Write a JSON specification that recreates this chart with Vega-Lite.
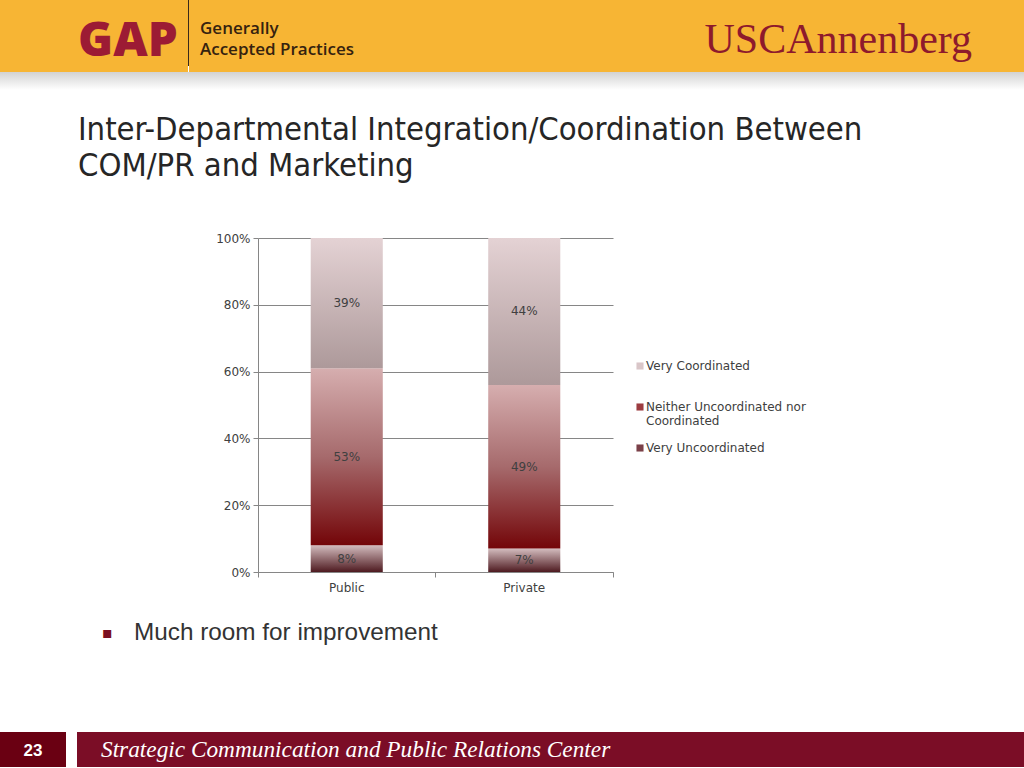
{
  "$schema": "https://vega.github.io/schema/vega-lite/v6.json",
  "background": "white",
  "padding": 0,
  "spacing": 0,
  "config": {"view": {"stroke": null}, "font": "DejaVu Sans"},
  "datasets": {
    "survey": [
      {"sector": "Public", "level": "Very Uncoordinated", "rank": 1, "share": 0.08},
      {"sector": "Public", "level": "Neither Uncoordinated nor Coordinated", "rank": 2, "share": 0.53},
      {"sector": "Public", "level": "Very Coordinated", "rank": 3, "share": 0.39},
      {"sector": "Private", "level": "Very Uncoordinated", "rank": 1, "share": 0.07},
      {"sector": "Private", "level": "Neither Uncoordinated nor Coordinated", "rank": 2, "share": 0.49},
      {"sector": "Private", "level": "Very Coordinated", "rank": 3, "share": 0.44}
    ],
    "blank": [{}]
  },
  "vconcat": [
    {
      "spacing": 0,
      "bounds": "flush",
      "hconcat": [
        {"width": 188, "height": 72, "view": {"fill": "#F7B534", "stroke": null}, "data": {"name": "blank"}, "mark": {"type": "text", "text": ""},
         "title": {"text": "GAP", "anchor": "start", "dx": 78, "offset": -65, "fontSize": 47.5, "font": "Open Sans", "fontWeight": 800, "color": "#9C1B34"}},
        {"width": 1, "height": 66, "view": {"fill": "#3A2A1A", "stroke": null}, "data": {"name": "blank"}, "mark": {"type": "text", "text": ""}},
        {"width": 411, "height": 72, "view": {"fill": "#F7B534", "stroke": null}, "data": {"name": "blank"}, "mark": {"type": "text", "text": ""},
         "title": {"text": "Generally", "subtitle": "Accepted Practices", "anchor": "start", "dx": 11, "offset": -59, "fontSize": 17, "font": "Open Sans", "fontWeight": 600, "color": "#35220F",
                   "subtitleFont": "Open Sans", "subtitleFontSize": 17, "subtitleFontWeight": 600, "subtitleColor": "#35220F", "subtitlePadding": 4}},
        {"width": 372, "height": 72, "view": {"fill": "#F7B534", "stroke": null}, "data": {"name": "blank"}, "mark": {"type": "text", "text": ""},
         "title": {"text": "USCAnnenberg", "anchor": "end", "offset": -62, "fontSize": 42, "font": "Liberation Serif", "fontWeight": "normal", "color": "#8E1A2C"}},
        {"width": 52, "height": 72, "view": {"fill": "#F7B534", "stroke": null}, "data": {"name": "blank"}, "mark": {"type": "text", "text": ""}}
      ]
    },
    {"width": 1024, "height": 18, "data": {"name": "blank"}, "encoding": {},
     "mark": {"type": "rect", "fill": {"gradient": "linear", "x1": 0, "y1": 0, "x2": 0, "y2": 1, "stops": [{"offset": 0, "color": "#D2D2D2"}, {"offset": 1, "color": "#FFFFFF"}]}}},
    {"width": 1024, "height": 142, "data": {"name": "blank"}, "mark": {"type": "text", "text": ""},
     "title": {"text": ["Inter-Departmental Integration/Coordination Between", "COM/PR and Marketing"], "anchor": "start", "dx": 78, "offset": -92, "fontSize": 32.5, "lineHeight": 36, "font": "DejaVu Sans Condensed", "fontWeight": "normal", "color": "#262626"}},
    {
      "spacing": 0,
      "bounds": "flush",
      "hconcat": [
        {"width": 258, "height": 334, "data": {"name": "blank"}, "mark": {"type": "text", "text": ""}},
        {
          "width": 355,
          "height": 334,
          "data": {"name": "survey"},
          "transform": [{"stack": "share", "groupby": ["sector"], "sort": [{"field": "rank", "order": "ascending"}], "as": ["lo", "hi"]}],
          "encoding": {
            "x": {"field": "sector", "type": "nominal", "sort": ["Public", "Private"],
                  "scale": {"paddingInner": 0, "paddingOuter": 0},
                  "axis": {"title": null, "labelAngle": 0, "bandPosition": 1, "tickExtra": true, "domainColor": "#868686", "tickColor": "#868686", "tickSize": 5, "labelFontSize": 12, "labelColor": "#404040", "labelPadding": 5, "grid": false}},
            "y": {"field": "lo", "type": "quantitative", "scale": {"domain": [0, 1]},
                  "axis": {"title": null, "format": ".0%", "values": [0, 0.2, 0.4, 0.6, 0.8, 1], "grid": true, "gridColor": "#868686", "domainColor": "#868686", "tickColor": "#868686", "tickSize": 5, "labelFontSize": 12, "labelColor": "#404040", "labelPadding": 3}}
          },
          "layer": [
            {
              "transform": [{"filter": "datum.level == 'Very Uncoordinated'"}],
              "mark": {"type": "bar", "width": {"band": 0.406},
                       "fill": {"gradient": "linear", "x1": 0, "y1": 0, "x2": 0, "y2": 1, "stops": [{"offset": 0, "color": "#D3BCBE"}, {"offset": 1, "color": "#4E1A20"}]}},
              "encoding": {"y2": {"field": "hi"}}
            },
            {
              "transform": [{"filter": "datum.level == 'Neither Uncoordinated nor Coordinated'"}],
              "mark": {"type": "bar", "width": {"band": 0.406},
                       "fill": {"gradient": "linear", "x1": 0, "y1": 0, "x2": 0, "y2": 1, "stops": [{"offset": 0, "color": "#D6AEAF"}, {"offset": 0.5, "color": "#A66A6C"}, {"offset": 1, "color": "#730508"}]}},
              "encoding": {"y2": {"field": "hi"}}
            },
            {
              "transform": [{"filter": "datum.level == 'Very Coordinated'"}],
              "mark": {"type": "bar", "width": {"band": 0.406},
                       "fill": {"gradient": "linear", "x1": 0, "y1": 0, "x2": 0, "y2": 1, "stops": [{"offset": 0, "color": "#E4D2D4"}, {"offset": 1, "color": "#AD999A"}]}},
              "encoding": {"y2": {"field": "hi"}}
            },
            {
              "transform": [
                {"fold": ["lo", "hi"], "as": ["edge", "pos"]},
                {"aggregate": [{"op": "mean", "field": "pos", "as": "mid"}], "groupby": ["sector", "level", "share"]}
              ],
              "mark": {"type": "text", "fontSize": 12, "color": "#404040", "baseline": "middle"},
              "encoding": {
                "y": {"field": "mid", "type": "quantitative",
                      "axis": {"title": null, "format": ".0%", "values": [0, 0.2, 0.4, 0.6, 0.8, 1], "grid": true, "gridColor": "#868686", "domainColor": "#868686", "tickColor": "#868686", "tickSize": 5, "labelFontSize": 12, "labelColor": "#404040", "labelPadding": 3}},
                "text": {"field": "share", "type": "quantitative", "format": ".0%"}
              }
            },
            {
              "mark": {"type": "point", "shape": "square", "filled": true, "opacity": 0},
              "encoding": {
                "color": {
                  "field": "level", "type": "nominal",
                  "scale": {
                    "domain": ["Very Coordinated", "Neither Uncoordinated nor Coordinated", "Very Uncoordinated"],
                    "range": ["#D9C6C8", "#9C3C40", "#7A4048"]
                  },
                  "legend": {"title": null, "orient": "none", "legendX": 634, "legendY": 360, "columns": 1, "gridAlign": "all", "symbolType": "square", "symbolSize": 50, "symbolStrokeWidth": 0, "symbolOpacity": 1, "labelFontSize": 12, "labelColor": "#404040", "rowPadding": 15, "labelOffset": 0,
                             "labelExpr": "datum.label == 'Neither Uncoordinated nor Coordinated' ? ['Neither Uncoordinated nor', 'Coordinated'] : datum.label"}
                }
              }
            }
          ]
        },
        {"width": 411, "height": 334, "data": {"name": "blank"}, "mark": {"type": "text", "text": ""}}
      ]
    },
    {
      "spacing": 0,
      "bounds": "flush",
      "hconcat": [
        {"width": 134, "height": 139, "data": {"name": "blank"}, "mark": {"type": "text", "text": ""},
         "title": {"text": "▪", "anchor": "start", "dx": 102, "offset": -48, "fontSize": 16, "color": "#7B1020", "fontWeight": "normal"}},
        {"width": 890, "height": 139, "data": {"name": "blank"}, "mark": {"type": "text", "text": ""},
         "title": {"text": "Much room for improvement", "anchor": "start", "offset": -52, "fontSize": 24.3, "font": "Liberation Sans", "fontWeight": "normal", "color": "#333333"}}
      ]
    },
    {
      "spacing": 0,
      "bounds": "flush",
      "hconcat": [
        {"width": 66, "height": 35, "view": {"fill": "#6A0012", "stroke": null}, "data": {"name": "blank"}, "mark": {"type": "text", "text": ""},
         "title": {"text": "23", "anchor": "middle", "offset": -28, "fontSize": 17, "font": "Liberation Sans", "fontWeight": "bold", "color": "#FFFFFF"}},
        {"width": 11, "height": 35, "data": {"name": "blank"}, "mark": {"type": "text", "text": ""}},
        {"width": 947, "height": 35, "view": {"fill": "#7B0D26", "stroke": null}, "data": {"name": "blank"}, "mark": {"type": "text", "text": ""},
         "title": {"text": "Strategic Communication and Public Relations Center", "anchor": "start", "dx": 24, "offset": -30, "fontSize": 23.3, "font": "Liberation Serif", "fontStyle": "italic", "fontWeight": "normal", "color": "#FFFFFF"}}
      ]
    }
  ]
}
